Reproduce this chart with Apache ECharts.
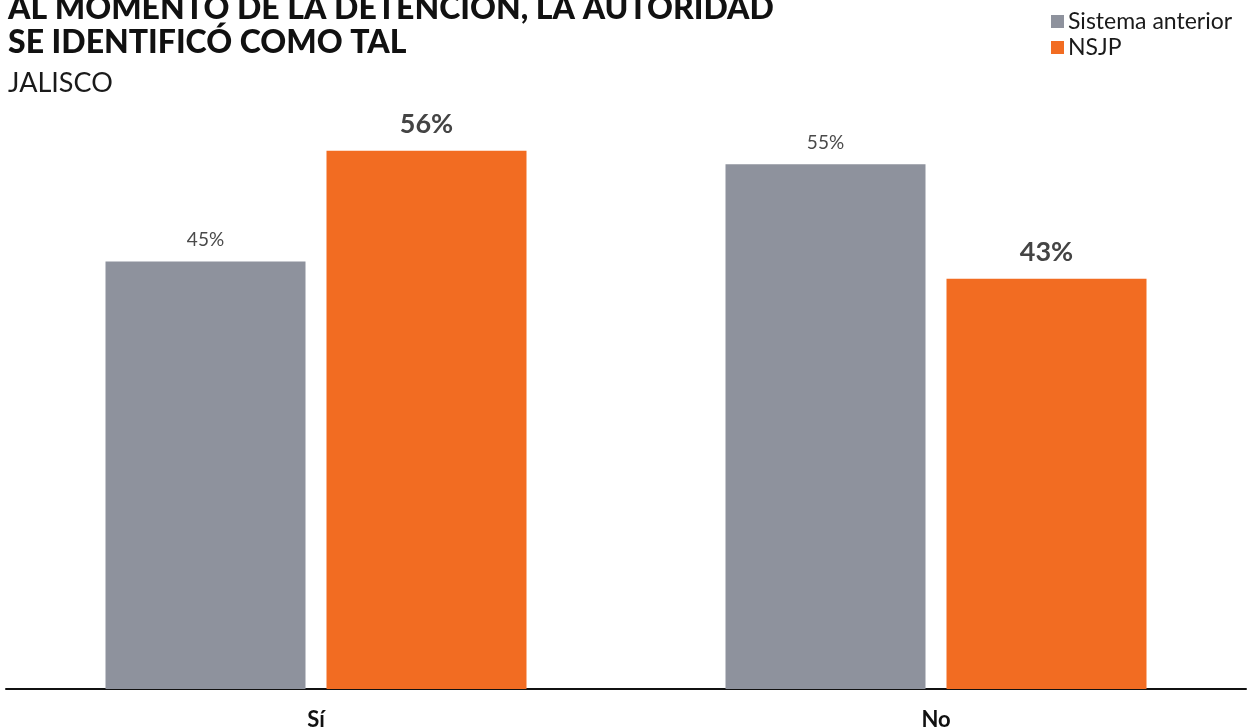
<!DOCTYPE html>
<html>
<head>
<meta charset="utf-8">
<script src="https://cdn.jsdelivr.net/npm/echarts@6/dist/echarts.min.js"></script>
<style>
  html, body { margin: 0; padding: 0; background: #fff; }
  #chart { width: 1252px; height: 728px; }
</style>
</head>
<body>
<div id="chart"></div>
<script>
  // categorías y valores (%)
  const categories = ['Sí', 'No']
  const seriesNames = ['Sistema anterior', 'NSJP']
  const anteriorValues = [44.8, 55.0]
  const nsjpValues = [56.4, 43.0]

  const FONT = 'Lato, "Noto Sans", sans-serif'
  const chart = echarts.init(document.getElementById('chart'))

  const option = {
    animation: false,
    textStyle: { fontFamily: FONT },
    title: [
      {
        text: 'AL MOMENTO DE LA DETENCIÓN, LA AUTORIDAD\nSE IDENTIFICÓ COMO TAL',
        left: 8,
        top: -8,
        padding: 0,
        textStyle: {
          fontFamily: FONT,
          fontSize: 32,
          fontWeight: 900,
          lineHeight: 34,
          color: '#111111'
        }
      },
      {
        text: 'JALISCO',
        left: 8,
        top: 70,
        padding: 0,
        textStyle: {
          fontFamily: FONT,
          fontSize: 27,
          fontWeight: 'normal',
          color: '#1a1a1a'
        }
      }
    ],
    legend: {
      data: seriesNames,
      orient: 'vertical',
      left: 1051,
      top: 10,
      padding: 0,
      icon: 'rect',
      itemWidth: 13,
      itemHeight: 13,
      itemGap: 3,
      textStyle: { fontFamily: FONT, fontSize: 23, color: '#1a1a1a', padding: [0, 0, 0, -1] }
    },
    grid: {
      left: 6,
      right: 6,
      top: 21,
      bottom: 39,
      containLabel: false,
      outerBoundsMode: 'none'
    },
    xAxis: {
      type: 'category',
      data: categories,
      axisTick: { show: false },
      axisLine: { lineStyle: { color: '#111111', width: 2 } },
      axisLabel: {
        margin: 20,
        fontFamily: FONT,
        fontSize: 22,
        fontWeight: 'bold',
        color: '#111111'
      }
    },
    yAxis: {
      type: 'value',
      min: 0,
      max: 70,
      show: false,
      splitLine: { show: false }
    },
    series: [
      {
        name: seriesNames[0],
        type: 'bar',
        data: anteriorValues,
        barWidth: 200,
        barGap: '10.5%',
        itemStyle: { color: '#8E929D' },
        label: {
          show: true,
          position: 'top',
          distance: 12,
          formatter: p => Math.round(p.value) + '%',
          fontFamily: FONT,
          fontSize: 19,
          color: '#4a4a4a'
        }
      },
      {
        name: seriesNames[1],
        type: 'bar',
        data: nsjpValues,
        barWidth: 200,
        itemStyle: { color: '#F26C22' },
        label: {
          show: true,
          position: 'top',
          distance: 13,
          formatter: p => Math.round(p.value) + '%',
          fontFamily: FONT,
          fontSize: 27,
          fontWeight: 'bold',
          color: '#444444'
        }
      }
    ]
  }

  chart.setOption(option)
</script>
</body>
</html>
